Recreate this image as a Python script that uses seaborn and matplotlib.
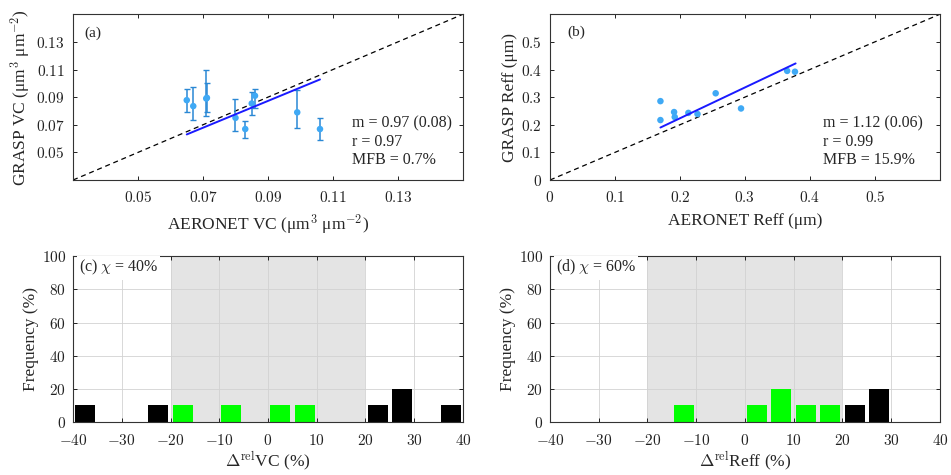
import numpy as np
import pandas as pd
import matplotlib
matplotlib.use("Agg")
import matplotlib.pyplot as plt
import seaborn as sns

# (a) volume concentration, AERONET vs GRASP
vc_aeronet = [0.065, 0.067, 0.071, 0.0712, 0.080, 0.083, 0.085, 0.086, 0.099, 0.106]
vc_grasp = [0.0878, 0.0835, 0.089, 0.0895, 0.075, 0.0669, 0.0854, 0.091, 0.079, 0.0669]
vc_err_lo = [0.0088, 0.0101, 0.013, 0.0105, 0.0096, 0.0068, 0.0084, 0.0087, 0.0116, 0.008]
vc_err_hi = [0.0079, 0.0135, 0.0205, 0.0105, 0.0136, 0.006, 0.008, 0.0048, 0.016, 0.0079]
vc_fit_x = [0.065, 0.106]
vc_fit_y = [0.063, 0.1028]
vc_stats = "m = 0.97 (0.08)\nr = 0.97\nMFB = 0.7%"

# (b) effective radius
reff_aeronet = [0.170, 0.170, 0.191, 0.192, 0.213, 0.227, 0.255, 0.294, 0.365, 0.377]
reff_grasp = [0.2855, 0.217, 0.246, 0.228, 0.243, 0.239, 0.314, 0.259, 0.395, 0.392]
reff_fit_x = [0.170, 0.378]
reff_fit_y = [0.190, 0.422]
reff_stats = "m = 1.12 (0.06)\nr = 0.99\nMFB = 15.9%"

# (c), (d) relative differences histograms (bin centres, %)
bin_centers = [-37.5, -32.5, -27.5, -22.5, -17.5, -12.5, -7.5, -2.5,
               2.5, 7.5, 12.5, 17.5, 22.5, 27.5, 32.5, 37.5]
freq_vc = [10, 0, 0, 10, 10, 0, 10, 0, 10, 10, 0, 0, 10, 20, 0, 10]
freq_reff = [0, 0, 0, 0, 0, 10, 0, 0, 10, 20, 10, 10, 10, 20, 0, 0]

sns.set_style("ticks")
plt.rcParams["font.family"] = ["Liberation Serif", "DejaVu Serif"]
plt.rcParams["mathtext.fontset"] = "cm"
plt.rcParams["axes.edgecolor"] = "#333333"
plt.rcParams["axes.linewidth"] = 0.8

fig = plt.figure(figsize=(9.51, 4.75), dpi=100)
ax_a = fig.add_axes([0.0768, 0.621, 0.410, 0.349])
ax_b = fig.add_axes([0.5783, 0.621, 0.410, 0.349])
ax_c = fig.add_axes([0.0768, 0.1116, 0.410, 0.349])
ax_d = fig.add_axes([0.5783, 0.1116, 0.410, 0.349])

pt_color = "#3fa9f5"
err_color = "#2a88d4"
fit_color = "#1a1aff"


def style_axes(ax, xpad, ypad):
    ax.tick_params(direction="in", top=True, right=True, length=3, width=0.7,
                   labelsize=11, colors="#222222")
    ax.tick_params(axis="x", pad=xpad)
    ax.tick_params(axis="y", pad=ypad)
    for s in ax.spines.values():
        s.set_visible(True)


def math_labels(vals, fmt):
    return ["$" + fmt.format(v) + "$" for v in vals]


# ---- (a)
ax_a.errorbar(vc_aeronet, vc_grasp, yerr=[vc_err_lo, vc_err_hi], fmt="none",
              ecolor=err_color, elinewidth=1.1, capsize=2.5, capthick=1.0, zorder=2)
sns.scatterplot(x=vc_aeronet, y=vc_grasp, color=pt_color, s=22, edgecolor="none",
                ax=ax_a, zorder=3)
ax_a.plot([0.03, 0.15], [0.03, 0.15], ls=(0, (4, 3)), color="black", lw=0.9, zorder=1)
sns.lineplot(x=vc_fit_x, y=vc_fit_y, color=fit_color, lw=1.4, ax=ax_a, zorder=4)
ax_a.set_xlim(0.03, 0.15)
ax_a.set_ylim(0.03, 0.15)
vc_ticks = [0.05, 0.07, 0.09, 0.11, 0.13]
ax_a.set_xticks(vc_ticks)
ax_a.set_xticklabels(math_labels(vc_ticks, "{:.2f}"))
ax_a.set_yticks(vc_ticks)
ax_a.set_yticklabels(math_labels(vc_ticks, "{:.2f}"))
ax_a.set_xlabel("AERONET VC (μm$^3$ μm$^{-2}$)", fontsize=12.5, labelpad=6)
ax_a.set_ylabel("GRASP VC (μm$^3$ μm$^{-2}$)", fontsize=12.5, labelpad=2)
ax_a.text(0.03, 0.885, "(a)", transform=ax_a.transAxes, fontsize=11, va="center")
ax_a.text(0.715, 0.229, vc_stats, transform=ax_a.transAxes, fontsize=11.5,
          va="center", linespacing=1.2)
style_axes(ax_a, 7, 6)

# ---- (b)
sns.scatterplot(x=reff_aeronet, y=reff_grasp, color=pt_color, s=22, edgecolor="none",
                ax=ax_b, zorder=3)
ax_b.plot([0, 0.6], [0, 0.6], ls=(0, (4, 3)), color="black", lw=0.9, zorder=1)
sns.lineplot(x=reff_fit_x, y=reff_fit_y, color=fit_color, lw=1.4, ax=ax_b, zorder=4)
ax_b.set_xlim(0, 0.6)
ax_b.set_ylim(0, 0.6)
reff_ticks = [0, 0.1, 0.2, 0.3, 0.4, 0.5]
ax_b.set_xticks(reff_ticks)
ax_b.set_xticklabels(["$0$"] + math_labels(reff_ticks[1:], "{:.1f}"))
ax_b.set_yticks(reff_ticks)
ax_b.set_yticklabels(["$0$"] + math_labels(reff_ticks[1:], "{:.1f}"))
ax_b.set_xlabel("AERONET Reff (μm)", fontsize=12.5, labelpad=6)
ax_b.set_ylabel("GRASP Reff (μm)", fontsize=12.5, labelpad=2)
ax_b.text(0.044, 0.89, "(b)", transform=ax_b.transAxes, fontsize=11, va="center")
ax_b.text(0.70, 0.229, reff_stats, transform=ax_b.transAxes, fontsize=11.5,
          va="center", linespacing=1.2)
style_axes(ax_b, 7, 6)

# ---- (c), (d)
edges = [float(e) for e in np.arange(-40, 41, 5)]
hist_ticks = list(range(-40, 41, 10))
for ax, freq, tag, xlab in [
    (ax_c, freq_vc, r"(c) $\chi$ = 40%", r"$\Delta^{\rm rel}$VC (%)"),
    (ax_d, freq_reff, r"(d) $\chi$ = 60%", r"$\Delta^{\rm rel}$Reff (%)"),
]:
    df = pd.DataFrame({"center": bin_centers, "freq": freq})
    df["within"] = np.where(df["center"].abs() < 20, "in", "out")
    ax.axvspan(-20, 20, color="#e4e4e4", zorder=0, lw=0)
    sns.histplot(data=df, x="center", weights="freq", hue="within",
                 palette={"in": "#00ff00", "out": "black"}, bins=edges,
                 shrink=0.82, alpha=1, linewidth=0, legend=False, ax=ax)
    ax.set_axisbelow(True)
    ax.grid(True, color="#d2d2d2", lw=0.6)
    ax.set_xlim(-40, 40)
    ax.set_ylim(0, 100)
    ax.set_xticks(hist_ticks)
    ax.set_xticklabels(["$%d$" % t for t in hist_ticks])
    ax.set_yticks(range(0, 101, 20))
    ax.set_yticklabels(["$%d$" % t for t in range(0, 101, 20)])
    ax.set_xlabel(xlab, fontsize=12.5, labelpad=1)
    ax.set_ylabel("Frequency (%)", fontsize=12.5, labelpad=2)
    ax.text(0.015, 0.93, tag, transform=ax.transAxes, fontsize=11.5, va="center",
            bbox=dict(facecolor="white", edgecolor="none", pad=1.5))
    style_axes(ax, 8, 5)

fig.savefig("out.png", dpi=100)
